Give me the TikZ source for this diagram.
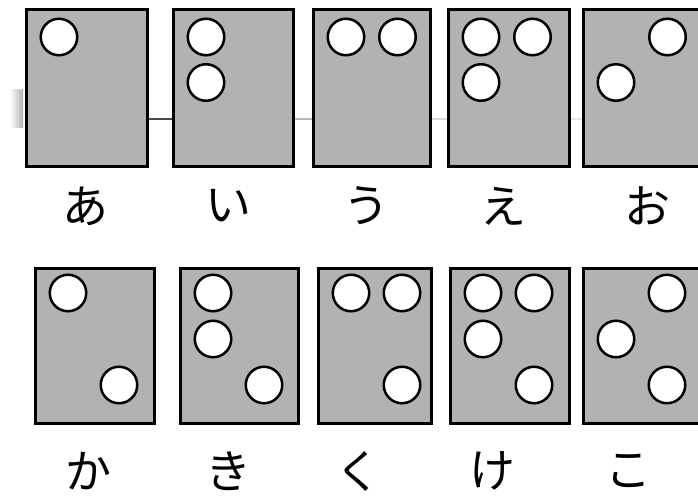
\documentclass[tikz,border=0pt]{standalone}
\usepackage{fontspec}
\newfontfamily\jpfont{Noto Sans CJK JP}
\usetikzlibrary{positioning,calc}
\definecolor{cellgray}{HTML}{B2B2B2}
\definecolor{ruleink}{HTML}{4A4A4A}
\tikzset{
  cell/.style ={draw=black,line width=3pt,fill=cellgray,inner sep=0pt,
                anchor=north west},
  dot/.style  ={circle,draw=black,line width=2.5pt,fill=white,
                minimum size=36.5pt,inner sep=0pt},
  kana/.style ={font=\jpfont\fontsize{46}{46}\selectfont,inner sep=0pt},
  rule/.style ={line width=2pt}
}

\begin{document}
\begin{tikzpicture}[x=1pt,y=-1pt]
  \useasboundingbox (0,0) rectangle (698,497);
  \clip (0,0) rectangle (698,497);
  % slide decoration behind the first row
  \shade[left color=white,right color=gray!60] (10,90) rectangle (23,128);
  % top row: a i u e o
  \foreach \n/\l/\r/\lx/\pts/\txt in {a/23/147/85/{1}/あ,
      i/170/293/228/{1,2}/い, u/310/430/366/{1,4}/う,
      e/445/569/503/{1,2,4}/え, o/580/704/647/{2,4}/お}{
    \node[cell,minimum width=\r-\l-3,minimum height=157] (\n) at (\l+1.5,8.5) {};
    \foreach \d in \pts {
      \pgfmathtruncatemacro\col{\d>3}
      \pgfmathtruncatemacro\rw{\d-3*\col-1}
      \node[dot] (\n-\d) at ($(\n.north west)+(34.5+51.5*\col,28.5+45.5*\rw)$) {};
    }
    \node[kana] (lab-\n) at (\lx,206) {\txt};
  }
  \draw[rule,draw=ruleink] (a.east |- 0,119) -- (i.west |- 0,119);
  \draw[rule,draw=gray!55] (i.east |- 0,119) -- (u.west |- 0,119);
  \draw[rule,draw=gray!30] (u.east |- 0,119) -- (e.west |- 0,119);
  \draw[rule,draw=gray!18] (e.east |- 0,119) -- (o.west |- 0,119);
  % bottom row: ka ki ku ke ko
  \foreach \n/\l/\r/\lx/\pts/\txt in {ka/32/154/88/{1,6}/か,
      ki/177/298/228/{1,2,6}/き, ku/315/431/358/{1,4,6}/く,
      ke/447/569/492/{1,2,4,6}/け, ko/580/704/628/{2,4,6}/こ}{
    \node[cell,minimum width=\r-\l-3,minimum height=155] (\n) at (\l+1.5,266.5) {};
    \foreach \d in \pts {
      \pgfmathtruncatemacro\col{\d>3}
      \pgfmathtruncatemacro\rw{\d-3*\col-1}
      \node[dot] (\n-\d) at ($(\n.north west)+(34.5+51*\col,26.5+46*\rw)$) {};
    }
    \node[kana] (lab-\n) at (\lx,471) {\txt};
  }
\end{tikzpicture}
\end{document}
